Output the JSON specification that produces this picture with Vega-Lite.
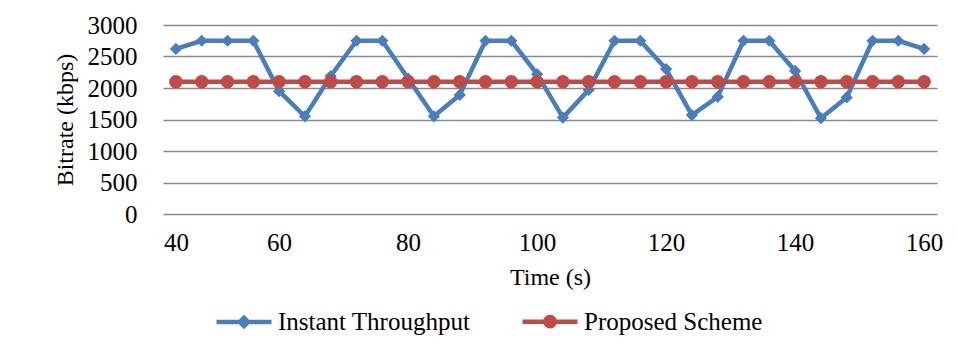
{
  "$schema": "https://vega.github.io/schema/vega-lite/v6.json",
  "width": 774,
  "height": 189,
  "autosize": {"type": "none"},
  "padding": {"left": 163, "top": 25, "right": 21, "bottom": 135},
  "background": "white",
  "config": {
    "view": {"stroke": null},
    "font": "Liberation Serif",
    "axis": {
      "labelFont": "Liberation Serif",
      "titleFont": "Liberation Serif",
      "labelColor": "#000000",
      "titleColor": "#000000",
      "titleFontWeight": "normal",
      "labelFontSize": 25,
      "titleFontSize": 24,
      "ticks": false,
      "tickSize": 0,
      "domain": false
    },
    "legend": {
      "labelFont": "Liberation Serif",
      "labelFontSize": 25,
      "labelColor": "#000000"
    }
  },
  "data": {
    "values": [
      {"t": 40, "series": "Instant Throughput", "v": 2620},
      {"t": 45, "series": "Instant Throughput", "v": 2750},
      {"t": 50, "series": "Instant Throughput", "v": 2750},
      {"t": 55, "series": "Instant Throughput", "v": 2750},
      {"t": 60, "series": "Instant Throughput", "v": 1950},
      {"t": 64, "series": "Instant Throughput", "v": 1550},
      {"t": 68, "series": "Instant Throughput", "v": 2190},
      {"t": 72, "series": "Instant Throughput", "v": 2750},
      {"t": 76, "series": "Instant Throughput", "v": 2750},
      {"t": 80, "series": "Instant Throughput", "v": 2150},
      {"t": 84, "series": "Instant Throughput", "v": 1550},
      {"t": 88, "series": "Instant Throughput", "v": 1890},
      {"t": 92, "series": "Instant Throughput", "v": 2750},
      {"t": 96, "series": "Instant Throughput", "v": 2750},
      {"t": 100, "series": "Instant Throughput", "v": 2220},
      {"t": 104, "series": "Instant Throughput", "v": 1530},
      {"t": 108, "series": "Instant Throughput", "v": 1970},
      {"t": 112, "series": "Instant Throughput", "v": 2750},
      {"t": 116, "series": "Instant Throughput", "v": 2750},
      {"t": 120, "series": "Instant Throughput", "v": 2300},
      {"t": 124, "series": "Instant Throughput", "v": 1570},
      {"t": 128, "series": "Instant Throughput", "v": 1860},
      {"t": 132, "series": "Instant Throughput", "v": 2750},
      {"t": 136, "series": "Instant Throughput", "v": 2750},
      {"t": 140, "series": "Instant Throughput", "v": 2270},
      {"t": 144, "series": "Instant Throughput", "v": 1520},
      {"t": 148, "series": "Instant Throughput", "v": 1850},
      {"t": 152, "series": "Instant Throughput", "v": 2750},
      {"t": 156, "series": "Instant Throughput", "v": 2750},
      {"t": 160, "series": "Instant Throughput", "v": 2620},
      {"t": 40, "series": "Proposed Scheme", "v": 2100},
      {"t": 45, "series": "Proposed Scheme", "v": 2100},
      {"t": 50, "series": "Proposed Scheme", "v": 2100},
      {"t": 55, "series": "Proposed Scheme", "v": 2100},
      {"t": 60, "series": "Proposed Scheme", "v": 2100},
      {"t": 64, "series": "Proposed Scheme", "v": 2100},
      {"t": 68, "series": "Proposed Scheme", "v": 2100},
      {"t": 72, "series": "Proposed Scheme", "v": 2100},
      {"t": 76, "series": "Proposed Scheme", "v": 2100},
      {"t": 80, "series": "Proposed Scheme", "v": 2100},
      {"t": 84, "series": "Proposed Scheme", "v": 2100},
      {"t": 88, "series": "Proposed Scheme", "v": 2100},
      {"t": 92, "series": "Proposed Scheme", "v": 2100},
      {"t": 96, "series": "Proposed Scheme", "v": 2100},
      {"t": 100, "series": "Proposed Scheme", "v": 2100},
      {"t": 104, "series": "Proposed Scheme", "v": 2100},
      {"t": 108, "series": "Proposed Scheme", "v": 2100},
      {"t": 112, "series": "Proposed Scheme", "v": 2100},
      {"t": 116, "series": "Proposed Scheme", "v": 2100},
      {"t": 120, "series": "Proposed Scheme", "v": 2100},
      {"t": 124, "series": "Proposed Scheme", "v": 2100},
      {"t": 128, "series": "Proposed Scheme", "v": 2100},
      {"t": 132, "series": "Proposed Scheme", "v": 2100},
      {"t": 136, "series": "Proposed Scheme", "v": 2100},
      {"t": 140, "series": "Proposed Scheme", "v": 2100},
      {"t": 144, "series": "Proposed Scheme", "v": 2100},
      {"t": 148, "series": "Proposed Scheme", "v": 2100},
      {"t": 152, "series": "Proposed Scheme", "v": 2100},
      {"t": 156, "series": "Proposed Scheme", "v": 2100},
      {"t": 160, "series": "Proposed Scheme", "v": 2100}
    ]
  },
  "encoding": {
    "x": {
      "field": "t",
      "type": "ordinal",
      "scale": {"type": "point", "padding": 0.5},
      "axis": {
        "title": "Time (s)",
        "labelFont": "Liberation Serif",
        "titleFont": "Liberation Serif",
        "labelFontSize": 25,
        "titleFontSize": 24,
        "labelAngle": 0,
        "labelExpr": "datum.value % 20 === 0 ? datum.label : ''",
        "labelOverlap": false,
        "labelBaseline": "alphabetic",
        "labelPadding": 36,
        "grid": false,
        "titleBaseline": "alphabetic",
        "titleY": 70
      }
    },
    "y": {
      "field": "v",
      "type": "quantitative",
      "scale": {"domain": [0, 3000], "nice": false},
      "axis": {
        "title": "Bitrate (kbps)",
        "labelFont": "Liberation Serif",
        "titleFont": "Liberation Serif",
        "labelFontSize": 25,
        "titleFontSize": 24,
        "values": [0, 500, 1000, 1500, 2000, 2500, 3000],
        "format": "d",
        "grid": true,
        "gridColor": "#8a8a8a",
        "gridWidth": 1.3,
        "labelPadding": 26,
        "titleAngle": -90,
        "titleBaseline": "alphabetic",
        "titleX": -91,
        "titleY": 94.5
      }
    }
  },
  "layer": [
    {
      "transform": [{"filter": "datum.series === 'Instant Throughput'"}],
      "mark": {"type": "line", "color": "#4A7EBB", "strokeWidth": 4.5, "strokeJoin": "round"}
    },
    {
      "transform": [{"filter": "datum.series === 'Instant Throughput'"}],
      "mark": {"type": "point", "shape": "diamond", "filled": true, "opacity": 1, "size": 150, "color": "#4A7EBB"}
    },
    {
      "transform": [{"filter": "datum.series === 'Proposed Scheme'"}],
      "mark": {"type": "line", "strokeWidth": 4.5, "strokeJoin": "round"},
      "encoding": {
        "color": {
          "field": "series",
          "type": "nominal",
          "scale": {"domain": ["Instant Throughput", "Proposed Scheme"], "range": ["#4A7EBB", "#BE4B48"]},
          "legend": {
            "orient": "none",
            "legendX": 51,
            "legendY": 266.5,
            "direction": "horizontal",
            "title": null,
            "padding": 0,
            "symbolSize": 3025,
            "symbolStrokeWidth": 4.5,
            "labelFont": "Liberation Serif",
            "labelFontSize": 25,
            "labelOffset": 4,
            "columnPadding": 42,
            "labelLimit": 400,
            "encode": {
              "symbols": {
                "update": {
                  "shape": {"signal": "datum.value === 'Instant Throughput' ? 'M-1,0L1,0M0,-0.15L0.15,0L0,0.15L-0.15,0Z' : 'M-1,0L1,0M-0.17,0A0.17,0.17,0,1,1,0.17,0A0.17,0.17,0,1,1,-0.17,0Z'"},
                  "fill": {"signal": "datum.value === 'Instant Throughput' ? '#4A7EBB' : '#BE4B48'"},
                  "stroke": {"signal": "datum.value === 'Instant Throughput' ? '#4A7EBB' : '#BE4B48'"}
                }
              }
            },
            "encoding": {
              "symbols": {
                "shape": {"condition": {"test": "datum.value === 'Instant Throughput'", "value": "M-1,0L1,0M0,-0.15L0.15,0L0,0.15L-0.15,0Z"}, "value": "M-1,0L1,0M-0.17,0A0.17,0.17,0,1,1,0.17,0A0.17,0.17,0,1,1,-0.17,0Z"},
                "fill": {"condition": {"test": "datum.value === 'Instant Throughput'", "value": "#4A7EBB"}, "value": "#BE4B48"},
                "stroke": {"condition": {"test": "datum.value === 'Instant Throughput'", "value": "#4A7EBB"}, "value": "#BE4B48"}
              }
            }
          }
        }
      }
    },
    {
      "transform": [{"filter": "datum.series === 'Proposed Scheme'"}],
      "mark": {"type": "point", "shape": "circle", "filled": true, "opacity": 1, "size": 185, "color": "#BE4B48"}
    }
  ]
}
